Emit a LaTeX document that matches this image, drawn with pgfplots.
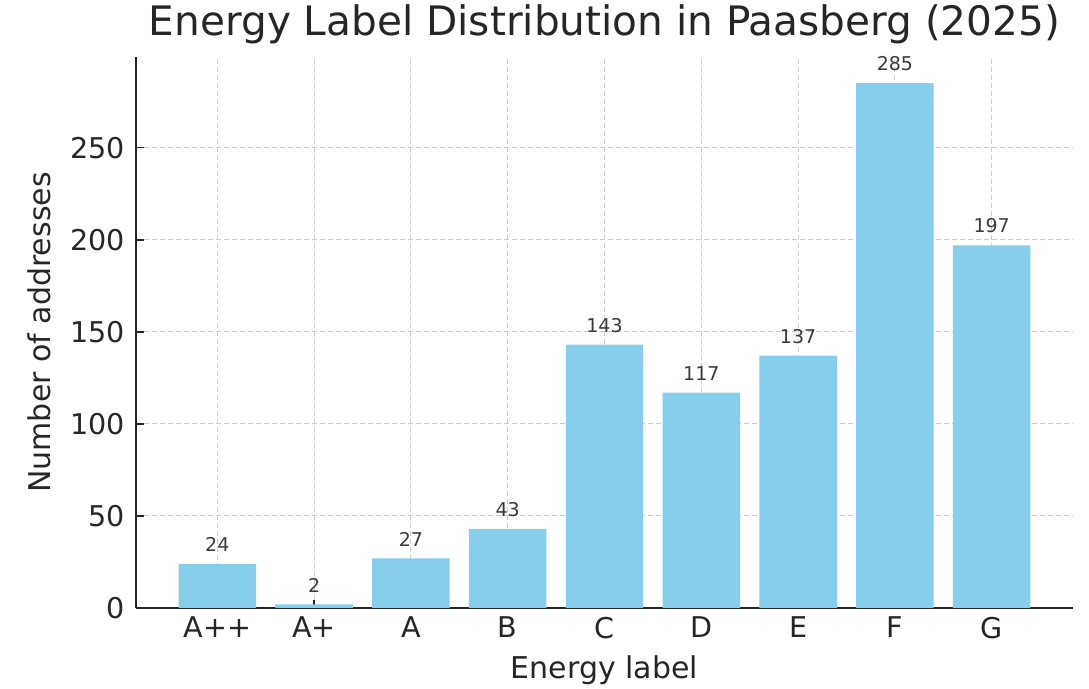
\documentclass[border=0pt]{standalone}
\usepackage{pgfplots}
\pgfplotsset{compat=1.18}
\usepackage{fontspec}
\setmainfont{DejaVu Sans}
\definecolor{barblue}{HTML}{87CEEB}
\definecolor{txt}{HTML}{262626}
\definecolor{vtxt}{HTML}{3A3A3A}
\begin{document}
\begin{tikzpicture}
\useasboundingbox (-68pt,-40.5pt) rectangle (476.5pt,304pt);
\begin{axis}[
  at={(0,0)}, anchor=south west,
  scale only axis,
  width=468.5pt, height=275.5pt,
  xmin=-0.84, xmax=8.84, ymin=0, ymax=299.25,
  enlargelimits=false,
  axis x line*=bottom, axis y line*=left,
  axis line style={-, line width=1pt, color=txt},
  xtick={0,...,8},
  xticklabels={A++,A+,A,B,C,D,E,F,G},
  ytick={0,50,100,150,200,250},
  tick align=inside,
  major tick length=4pt,
  tick style={line width=0.8pt, color=txt},
  grid=major,
  major grid style={dash pattern=on 2.5pt off 1.5pt, color=gray!40, line width=0.5pt},
  /pgf/number format/assume math mode=true,
  ticklabel style={font=\fontsize{14.3}{16}\selectfont, text=txt},
  yticklabel style={xshift=-2pt},
  xticklabel style={yshift=-1pt},
  title={Energy Label Distribution in Paasberg (2025)},
  title style={font=\fontsize{20.3}{24}\selectfont, text=txt, yshift=-3pt},
  xlabel={Energy label},
  ylabel={Number of addresses},
  label style={font=\fontsize{15}{17}\selectfont, text=txt},
  xlabel style={yshift=-1.5pt},
  ylabel style={yshift=3pt},
  nodes near coords,
  every node near coord/.append style={font=\fontsize{9.5}{11}\selectfont, text=vtxt, anchor=south, yshift=2.5pt},
]
\addplot[ybar, bar width=0.8, fill=barblue, draw=none] coordinates {
(0,24) (1,2) (2,27) (3,43) (4,143) (5,117) (6,137) (7,285) (8,197)
};
\end{axis}
\end{tikzpicture}
\end{document}
